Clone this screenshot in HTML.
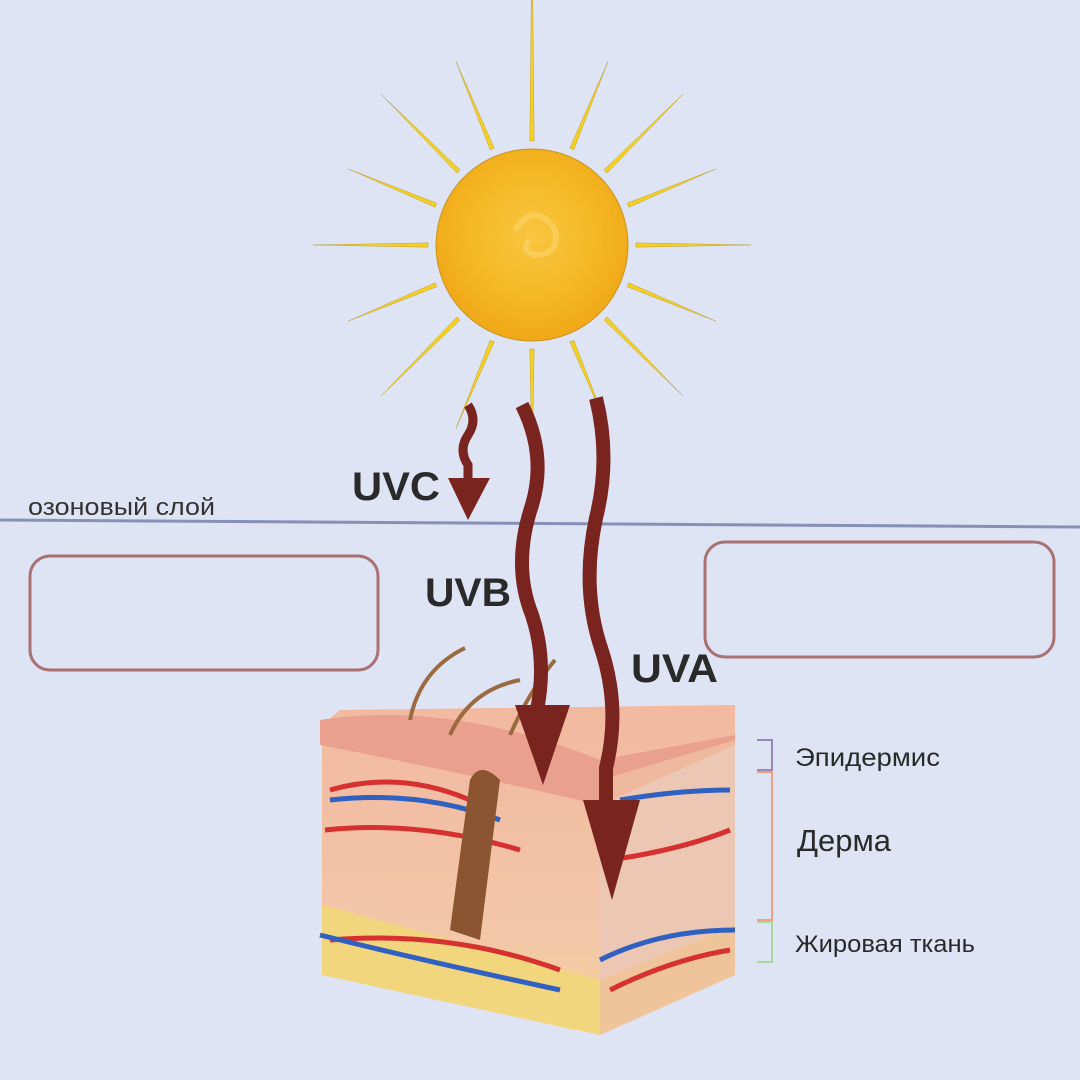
<!DOCTYPE html>
<html><head><meta charset="utf-8"><style>
body{margin:0;background:#dfe4f4;}
svg{display:block}
text{font-family:"Liberation Sans","DejaVu Sans",sans-serif}
</style></head><body>
<svg width="1080" height="1080" viewBox="0 0 1080 1080">
<defs>
<radialGradient id="sun" cx="0.5" cy="0.45" r="0.55">
<stop offset="0" stop-color="#f8c640"/><stop offset="0.6" stop-color="#f5b824"/><stop offset="1" stop-color="#f0a818"/>
</radialGradient>
<linearGradient id="skin" x1="0" y1="0" x2="0" y2="1">
<stop offset="0" stop-color="#f2b9a0"/><stop offset="0.7" stop-color="#f3c6a8"/><stop offset="1" stop-color="#f4d49a"/>
</linearGradient>
</defs>
<rect width="1080" height="1080" fill="#dfe4f4"/>
<g id="sung">
<circle cx="532" cy="245" r="96" fill="url(#sun)" stroke="#c89420" stroke-width="1"/>
<path d="M515 230 q20 -30 40 0 q5 25 -20 25 q-15 -5 -5 -15" fill="none" stroke="#fad46a" stroke-width="6" opacity="0.6"/>
</g>
<line x1="0" y1="520" x2="1080" y2="527" stroke="#8890b8" stroke-width="3"/>
<text x="28" y="515" font-size="24" fill="#333" textLength="187" lengthAdjust="spacingAndGlyphs">озоновый слой</text>
<rect x="30" y="556" width="348" height="114" rx="20" fill="none" stroke="#a87272" stroke-width="3"/>
<rect x="705" y="542" width="349" height="115" rx="20" fill="none" stroke="#a87272" stroke-width="3"/>
<g>
<path d="M322 725 L340 710 L735 705 L735 740 L600 800 L600 1030 L575 1030 L322 975 Z" fill="url(#skin)"/>
<path d="M320 720 Q450 700 600 760 L735 735 L735 745 L600 805 Q450 770 320 745 Z" fill="#e9a08e"/>
<path d="M322 905 L600 980 L735 925 L735 975 L600 1035 L322 975 Z" fill="#f2d67e"/>
<path d="M600 780 L735 740 L735 975 L600 1035 Z" fill="#efbfa2" opacity="0.8"/>
<path d="M330 790 Q400 770 470 800 M325 830 Q420 820 520 850 M330 940 Q450 930 560 970 M610 860 Q680 850 730 830 M610 990 Q670 960 730 950" stroke="#d63030" stroke-width="5" fill="none"/>
<path d="M330 800 Q420 790 500 820 M320 935 Q420 960 560 990 M600 960 Q660 930 735 930 M620 800 Q680 790 730 790" stroke="#3060c0" stroke-width="5" fill="none"/>
<path d="M450 930 L470 780 Q480 760 500 780 L480 940 Z" fill="#8a5530"/>
<path d="M410 720 Q420 670 465 648 M450 735 Q470 690 520 680 M510 735 Q530 690 555 660" stroke="#9a6a40" stroke-width="4" fill="none"/>
</g>
<g>
<path d="M468 405 q10 15 0 30 q-10 15 0 30 l0 15" fill="none" stroke="#7a2420" stroke-width="9"/>
<polygon points="448,478 490,478 468,520" fill="#7a2420"/>
</g>
<g>
<path d="M522 405 q25 50 10 100 q-20 60 0 110 q15 45 5 95" fill="none" stroke="#7a2420" stroke-width="14"/>
<polygon points="515,705 570,705 543,785" fill="#7a2420"/>
</g>
<g>
<path d="M596 398 q15 60 0 120 q-15 70 5 130 q20 60 5 120 l0 40" fill="none" stroke="#7a2420" stroke-width="14"/>
<polygon points="583,800 640,800 612,900" fill="#7a2420"/>
</g>
<text x="352" y="500" font-size="40" font-weight="bold" fill="#2a2a2a" textLength="88" lengthAdjust="spacingAndGlyphs">UVC</text>
<text x="425" y="606" font-size="40" font-weight="bold" fill="#2a2a2a" textLength="86" lengthAdjust="spacingAndGlyphs">UVB</text>
<text x="631" y="682" font-size="40" font-weight="bold" fill="#2a2a2a" textLength="87" lengthAdjust="spacingAndGlyphs">UVA</text>
<path d="M757 740 h15 v30 h-15" fill="none" stroke="#9a88b8" stroke-width="2"/>
<path d="M757 772 h15 v148 h-15" fill="none" stroke="#f0a080" stroke-width="2"/>
<path d="M757 922 h15 v40 h-15" fill="none" stroke="#a8d8a0" stroke-width="2"/>
<text x="795" y="766" font-size="25" fill="#2a2a2a" textLength="145" lengthAdjust="spacingAndGlyphs">Эпидермис</text>
<text x="797" y="851" font-size="31" fill="#2a2a2a" textLength="94" lengthAdjust="spacingAndGlyphs">Дерма</text>
<text x="795" y="952" font-size="24" fill="#2a2a2a" textLength="180" lengthAdjust="spacingAndGlyphs">Жировая ткань</text>
</svg>
<script>
const rayAngles=[0,22.5,45,67.5,90,112.5,135,157.5,180,202.5,225,247.5,270,292.5,315,337.5];
const rayLens=[115,95,110,95,120,95,110,95,115,95,110,95,215,95,110,95];
const g=document.getElementById('sung');
rayAngles.forEach((a,i)=>{
 const r=a*Math.PI/180, cx=532, cy=245, r0=104, r1=r0+rayLens[i];
 const w=4*Math.PI/180*0.6;
 const p=document.createElementNS('http://www.w3.org/2000/svg','polygon');
 const pts=[[cx+r0*Math.cos(r-w*0.5),cy+r0*Math.sin(r-w*0.5)],[cx+r1*Math.cos(r),cy+r1*Math.sin(r)],[cx+r0*Math.cos(r+w*0.5),cy+r0*Math.sin(r+w*0.5)]];
 p.setAttribute('points',pts.map(q=>q.join(',')).join(' '));
 p.setAttribute('fill','#f5d020');p.setAttribute('stroke','#b8a040');p.setAttribute('stroke-width','0.5');
 
 
 g.insertBefore(p,g.firstChild);
});
</script>
</body></html>
